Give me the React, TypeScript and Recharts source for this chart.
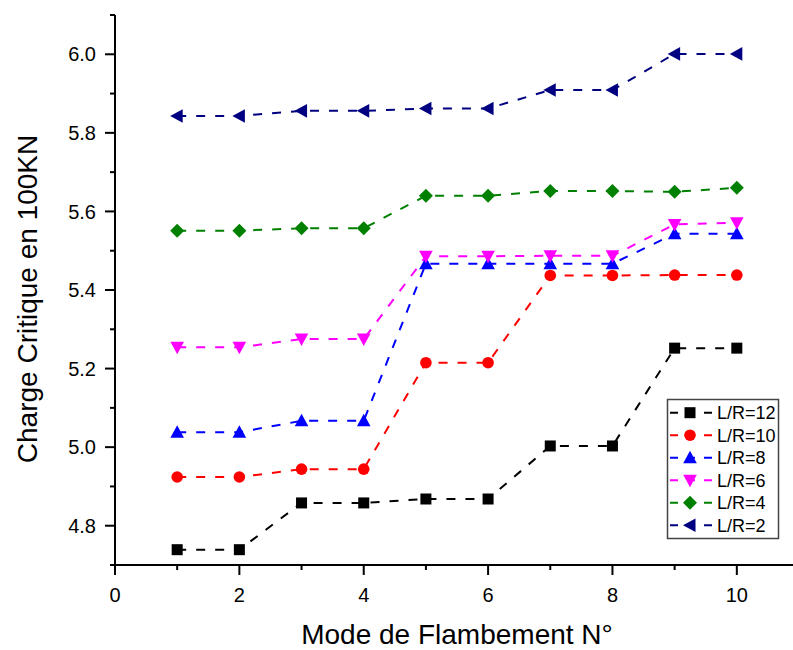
import React from 'react';
import { LineChart, Line, XAxis, YAxis } from 'recharts';

const modes = [1, 2, 3, 4, 5, 6, 7, 8, 9, 10];
const lr12 = [4.739, 4.739, 4.858, 4.858, 4.868, 4.868, 5.003, 5.003, 5.252, 5.252];
const lr10 = [4.924, 4.924, 4.944, 4.944, 5.215, 5.215, 5.437, 5.437, 5.438, 5.438];
const lr8 = [5.038, 5.038, 5.067, 5.067, 5.467, 5.467, 5.467, 5.467, 5.543, 5.543];
const lr6 = [5.254, 5.254, 5.275, 5.275, 5.486, 5.486, 5.487, 5.487, 5.567, 5.571];
const lr4 = [5.551, 5.551, 5.557, 5.557, 5.640, 5.640, 5.652, 5.652, 5.650, 5.660];
const lr2 = [5.843, 5.843, 5.856, 5.856, 5.862, 5.862, 5.909, 5.909, 6.001, 6.001];

const xTicks = [0, 1, 2, 3, 4, 5, 6, 7, 8, 9, 10, 11];
const yTicks = [4.7, 4.8, 4.9, 5.0, 5.1, 5.2, 5.3, 5.4, 5.5, 5.6, 5.7, 5.8, 5.9, 6.0, 6.1];

const xTitle = 'Mode de Flambement N°';
const yTitle = 'Charge Critique en 100KN';

const FONT = '"Liberation Sans", Arial, sans-serif';

type Shape = 'square' | 'circle' | 'up' | 'down' | 'diamond' | 'left';

const series: { key: string; name: string; values: number[]; color: string; shape: Shape }[] = [
  { key: 'lr12', name: 'L/R=12', values: lr12, color: '#000000', shape: 'square' },
  { key: 'lr10', name: 'L/R=10', values: lr10, color: '#FF0000', shape: 'circle' },
  { key: 'lr8', name: 'L/R=8', values: lr8, color: '#0000FF', shape: 'up' },
  { key: 'lr6', name: 'L/R=6', values: lr6, color: '#FF00FF', shape: 'down' },
  { key: 'lr4', name: 'L/R=4', values: lr4, color: '#008000', shape: 'diamond' },
  { key: 'lr2', name: 'L/R=2', values: lr2, color: '#000080', shape: 'left' },
];

const data = modes.map((m, i) => {
  const row: Record<string, number> = { mode: m };
  series.forEach((s) => {
    row[s.key] = s.values[i];
  });
  return row;
});

function Marker({ cx, cy, shape, color }: { cx: number; cy: number; shape: Shape; color: string }) {
  if (cx == null || cy == null || isNaN(cx) || isNaN(cy)) return null;
  switch (shape) {
    case 'square':
      return <rect x={cx - 5.5} y={cy - 5.5} width={11} height={11} fill={color} />;
    case 'circle':
      return <circle cx={cx} cy={cy} r={5.8} fill={color} />;
    case 'up':
      return <polygon points={`${cx},${cy - 7} ${cx + 6.8},${cy + 5.5} ${cx - 6.8},${cy + 5.5}`} fill={color} />;
    case 'down':
      return <polygon points={`${cx},${cy + 7} ${cx + 6.8},${cy - 5.5} ${cx - 6.8},${cy - 5.5}`} fill={color} />;
    case 'diamond':
      return <polygon points={`${cx},${cy - 7} ${cx + 7},${cy} ${cx},${cy + 7} ${cx - 7},${cy}`} fill={color} />;
    case 'left':
    default:
      return <polygon points={`${cx - 7},${cy} ${cx + 5.5},${cy - 6.8} ${cx + 5.5},${cy + 6.8}`} fill={color} />;
  }
}

const XTick = (props: any) => {
  const { x, y, payload } = props;
  const v = payload.value;
  const major = v % 2 === 0;
  return (
    <g>
      <line x1={x} x2={x} y1={y} y2={y + (major ? 10 : 5)} stroke="#000" strokeWidth={2} />
      {major && v <= 10 && (
        <text x={x} y={y + 37} textAnchor="middle" fontSize={20} fontFamily={FONT} fill="#000">
          {v}
        </text>
      )}
    </g>
  );
};

const YTick = (props: any) => {
  const { x, y, payload } = props;
  const v = payload.value;
  const major = Math.round(v * 10) % 2 === 0;
  return (
    <g>
      <line x1={x - (major ? 10 : 5)} x2={x} y1={y} y2={y} stroke="#000" strokeWidth={2} />
      {major && (
        <text x={x - 19} y={y} dy="0.36em" textAnchor="end" fontSize={20} fontFamily={FONT} fill="#000">
          {v.toFixed(1)}
        </text>
      )}
    </g>
  );
};

const XLabel = (props: any) => {
  const vb = props.viewBox || {};
  const cx = vb.x + vb.width / 2;
  return (
    <text x={cx} y={vb.y + 79} textAnchor="middle" fontSize={28} fontFamily={FONT} fill="#000">
      {xTitle}
    </text>
  );
};

const YLabel = () => {
  return (
    <text
      x={37}
      y={299}
      transform="rotate(-90 37 299)"
      textAnchor="middle"
      fontSize={28}
      fontFamily={FONT}
      fill="#000"
    >
      {yTitle}
    </text>
  );
};

function LegendBox() {
  const left = 667.5;
  const top = 399.5;
  return (
    <svg
      width={793}
      height={650}
      style={{ position: 'absolute', left: 0, top: 0, pointerEvents: 'none' }}
    >
      <rect x={left} y={top} width={111} height={139} fill="#fff" stroke="#444" strokeWidth={1.5} />
      {series.map((s, i) => {
        const cy = 412.7 + 22.5 * i;
        return (
          <g key={s.key}>
            <line x1={670} x2={712} y1={cy} y2={cy} stroke={s.color} strokeWidth={2} strokeDasharray="8 9" />
            <Marker cx={690} cy={cy} shape={s.shape} color={s.color} />
            <text x={717} y={cy + 6.5} fontSize={18} fontFamily={FONT} fill="#000">
              {s.name}
            </text>
          </g>
        );
      })}
    </svg>
  );
}

export default function App() {
  return (
    <div
      style={{
        position: 'absolute',
        left: 0,
        top: 0,
        width: 793,
        height: 650,
        overflow: 'hidden',
        background: '#fff',
      }}
    >
      <LineChart width={800} height={650} data={data} margin={{ top: 15, right: 1, bottom: 0, left: 0 }}>
        <XAxis
          dataKey="mode"
          type="number"
          domain={[0, 11]}
          ticks={xTicks}
          interval={0}
          tickSize={0}
          tickMargin={0}
          tickLine={false}
          tick={<XTick />}
          height={85}
          axisLine={{ stroke: '#000', strokeWidth: 2 }}
          label={<XLabel />}
        />
        <YAxis
          type="number"
          domain={[4.7, 6.1]}
          ticks={yTicks}
          interval={0}
          tickSize={0}
          tickMargin={0}
          tickLine={false}
          tick={<YTick />}
          width={115}
          axisLine={{ stroke: '#000', strokeWidth: 2 }}
          allowDataOverflow
          label={<YLabel />}
        />
        {series.map((s) => (
          <Line
            key={s.key}
            type="linear"
            dataKey={s.key}
            name={s.name}
            stroke={s.color}
            strokeWidth={2}
            strokeDasharray="9 10"
            isAnimationActive={false}
            activeDot={false}
            dot={(p: any) => <Marker key={`${s.key}-${p.index}`} cx={p.cx} cy={p.cy} shape={s.shape} color={s.color} />}
          />
        ))}
      </LineChart>
      <LegendBox />
    </div>
  );
}
